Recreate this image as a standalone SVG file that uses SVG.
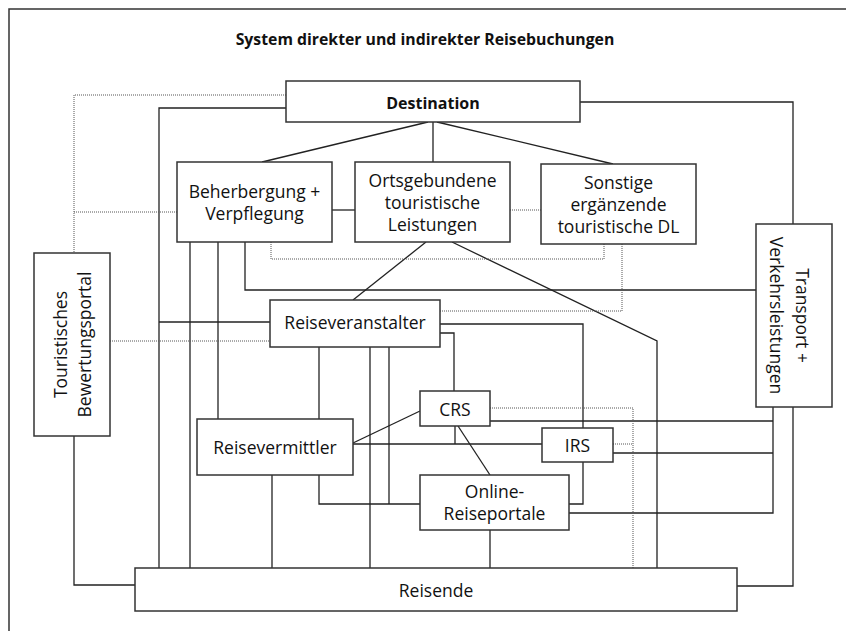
<svg xmlns="http://www.w3.org/2000/svg" width="846" height="631" viewBox="0 0 846 631">
<style>
  .box { fill: #fff; stroke: #333; stroke-width: 1.5; }
  .ln { fill: none; stroke: #222; stroke-width: 1.3; }
  .dt { fill: none; stroke: #555; stroke-width: 1; stroke-dasharray: 1 1; }
  text { font-family: "Open Sans", "Noto Sans", sans-serif; fill: #111; text-anchor: middle; }
  .t { font-size: 17.5px; }
  .b { font-weight: 700; }
</style>
<rect x="0" y="0" width="846" height="631" fill="#fff"/>
<path d="M9,631 V9 H846" fill="none" stroke="#333" stroke-width="1.5"/>
<text class="b" x="425" y="45" font-size="15.8">System direkter und indirekter Reisebuchungen</text>

<g id="connectors">
  <path class="ln" d="M286,108 H159 V568"/>
  <path class="ln" d="M580,102 H793 V224"/>
  <path class="ln" d="M428,122 L262,162"/>
  <path class="ln" d="M433,122 V162"/>
  <path class="ln" d="M437,122 L613,164"/>
  <path class="ln" d="M332,210 H355"/>
  <path class="ln" d="M190,242 V568"/>
  <path class="ln" d="M218,242 V419"/>
  <path class="ln" d="M245,242 V290 H756"/>
  <path class="ln" d="M426,242 L353,300"/>
  <path class="ln" d="M452,242 L657,341 V568"/>
  <path class="ln" d="M270,322 H159"/>
  <path class="ln" d="M319,347 V419"/>
  <path class="ln" d="M319,475 V504 H420"/>
  <path class="ln" d="M370,347 V568"/>
  <path class="ln" d="M389,347 V504"/>
  <path class="ln" d="M440,333 H454 V391"/>
  <path class="ln" d="M440,324 H583 V428"/>
  <path class="ln" d="M583,462 V504 H569"/>
  <path class="ln" d="M353,443 L420,411"/>
  <path class="ln" d="M353,444 H542"/>
  <path class="ln" d="M455,426 V444"/>
  <path class="ln" d="M458,426 L490,475"/>
  <path class="ln" d="M490,530 V568"/>
  <path class="ln" d="M272,475 V568"/>
  <path class="ln" d="M490,421 H773"/>
  <path class="ln" d="M613,453 H773"/>
  <path class="ln" d="M569,513 H773 V407"/>
  <path class="ln" d="M793,407 V586 H737"/>
  <path class="ln" d="M74,436 V585 H135"/>
  <path class="dt" d="M286,95 H74 V253"/>
  <path class="dt" d="M177,212 H74"/>
  <path class="dt" d="M510,210 H541"/>
  <path class="dt" d="M271,242 V259 H604 V244"/>
  <path class="dt" d="M622,244 V311 H440"/>
  <path class="dt" d="M110,341 H270"/>
  <path class="dt" d="M490,408 H633 V568"/>
  <path class="dt" d="M613,444 H633"/>
</g>

<g id="destination">
  <rect class="box" x="286" y="81" width="294" height="41"/>
  <text class="b" x="433" y="109" font-size="16">Destination</text>
</g>
<g id="beherbergung">
  <rect class="box" x="177" y="162" width="155" height="80"/>
  <text class="t" x="254.5" y="198">Beherbergung +</text>
  <text class="t" x="254.5" y="220">Verpflegung</text>
</g>
<g id="ortsgebundene">
  <rect class="box" x="355" y="162" width="155" height="80"/>
  <text class="t" x="432.5" y="186.5">Ortsgebundene</text>
  <text class="t" x="432.5" y="208.5">touristische</text>
  <text class="t" x="432.5" y="230.5">Leistungen</text>
</g>
<g id="sonstige">
  <rect class="box" x="541" y="164" width="155" height="80"/>
  <text class="t" x="618.5" y="189">Sonstige</text>
  <text class="t" x="618.5" y="211">ergänzende</text>
  <text class="t" x="618.5" y="233">touristische DL</text>
</g>
<g id="portal">
  <rect class="box" x="34" y="253" width="76" height="183"/>
  <g transform="translate(72,344.5) rotate(-90)">
    <text class="t" x="0" y="-5">Touristisches</text>
    <text class="t" x="0" y="19">Bewertungsportal</text>
  </g>
</g>
<g id="transport">
  <rect class="box" x="756" y="224" width="76" height="183"/>
  <g transform="translate(794,315.5) rotate(90)">
    <text class="t" x="0" y="-2">Transport +</text>
    <text class="t" x="0" y="24">Verkehrsleistungen</text>
  </g>
</g>
<g id="reiseveranstalter">
  <rect class="box" x="270" y="300" width="170" height="47"/>
  <text class="t" x="355" y="329">Reiseveranstalter</text>
</g>
<g id="crs">
  <rect class="box" x="420" y="391" width="70" height="35"/>
  <text class="t" x="455" y="416">CRS</text>
</g>
<g id="irs">
  <rect class="box" x="542" y="428" width="71" height="34"/>
  <text class="t" x="577.5" y="452">IRS</text>
</g>
<g id="reisevermittler">
  <rect class="box" x="197" y="419" width="156" height="56"/>
  <text class="t" x="275" y="454">Reisevermittler</text>
</g>
<g id="online">
  <rect class="box" x="420" y="475" width="149" height="55"/>
  <text class="t" x="494.5" y="498">Online-</text>
  <text class="t" x="494.5" y="520">Reiseportale</text>
</g>
<g id="reisende">
  <rect class="box" x="135" y="568" width="602" height="43"/>
  <text class="t" x="436" y="597">Reisende</text>
</g>
</svg>
